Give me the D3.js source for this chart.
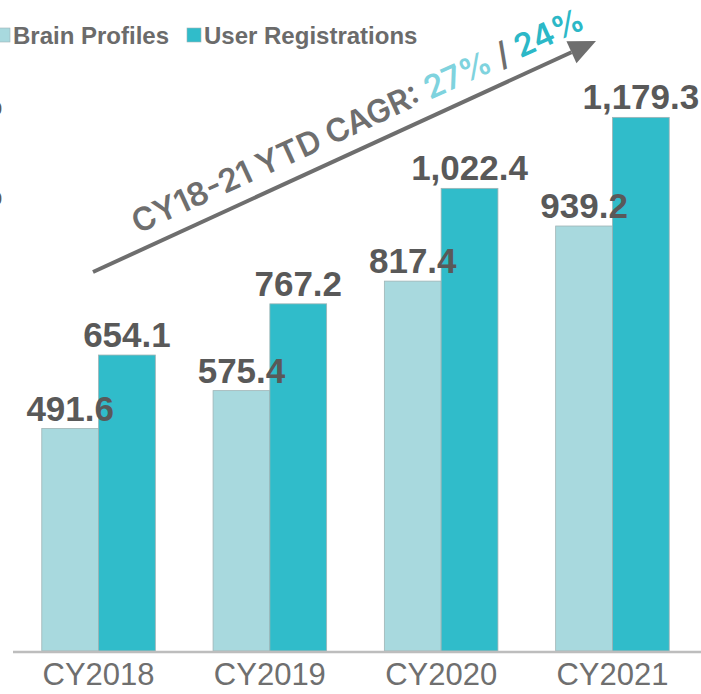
<!DOCTYPE html>
<html>
<head>
<meta charset="utf-8">
<script src="https://cdn.jsdelivr.net/npm/d3@7"></script>
<style>
  body { margin: 0; background: #fff; }
  svg { display: block; }
</style>
</head>
<body>
<script>
// ----------------------------------------
//  Data
// ----------------------------------------
var years = ["CY2018", "CY2019", "CY2020", "CY2021"];
var seriesNames = ["Brain Profiles", "User Registrations"];
var brainProfiles = [491.6, 575.4, 817.4, 939.2];
var userRegistrations = [654.1, 767.2, 1022.4, 1179.3];
var yTicks = [1000, 1200];
var cagrParts = [
  { text: "CY18-21 YTD CAGR: ", color: "#6e6e6e" },
  { text: "27%", color: "#7fd3de" },
  { text: " / ", color: "#6e6e6e" },
  { text: "24%", color: "#2cb8c7" }
];

var colors = ["#a8d9de", "#30bcca"];

var width = 701, height = 694;

var svg = d3.select("body").append("svg")
    .attr("width", width)
    .attr("height", height);

// ----------------------------------------
// Scales
// ----------------------------------------
var x0 = d3.scaleBand()
    .domain(years)
    .range([13, 698])
    .paddingInner(0.337)
    .paddingOuter(0.168);

var x1 = d3.scaleBand()
    .domain(seriesNames)
    .range([0, x0.bandwidth()])
    .padding(0);

var y = d3.scaleLinear()
    .domain([0, 1200])
    .range([651, 108]);

var rows = years.map(function(yr, i) {
  return { year: yr, values: [
    { name: seriesNames[0], value: brainProfiles[i], color: colors[0] },
    { name: seriesNames[1], value: userRegistrations[i], color: colors[1] }
  ]};
});

// y axis (the reference only shows its labels clipped at the left edge)
var yAxis = svg.append("g")
    .attr("transform", "translate(2,0)")
    .call(d3.axisLeft(y).tickValues(yTicks).tickSize(0).tickPadding(0).tickFormat(d3.format(",")));
yAxis.select(".domain").remove();
yAxis.selectAll("text")
    .attr("font-family", "Liberation Sans, Arial, sans-serif")
    .attr("font-size", 19)
    .attr("fill", "#595959");

// ----------------------------------------
// Bars
// ----------------------------------------
var groups = svg.selectAll(".grp")
    .data(rows)
    .enter().append("g")
    .attr("class", "grp")
    .attr("transform", function(d) { return "translate(" + x0(d.year) + ",0)"; });

groups.selectAll("rect")
    .data(function(d) { return d.values; })
    .enter().append("rect")
    .attr("x", function(d) { return x1(d.name); })
    .attr("y", function(d) { return y(d.value); })
    .attr("width", x1.bandwidth())
    .attr("height", function(d) { return y(0) - y(d.value); })
    .attr("fill", function(d) { return d.color; })
    .attr("stroke", "#9fb3b5")
    .attr("stroke-width", 0.8);

groups.selectAll(".lbl")
    .data(function(d) { return d.values; })
    .enter().append("text")
    .attr("class", "lbl")
    .attr("x", function(d) { return x1(d.name) + x1.bandwidth() / 2; })
    .attr("y", function(d) { return y(d.value) - 8; })
    .attr("text-anchor", "middle")
    .attr("font-family", "Liberation Sans, Arial, sans-serif")
    .attr("font-weight", "bold")
    .attr("font-size", 35)
    .attr("fill", "#595959")
    .text(function(d) { return d3.format(",.1f")(d.value); });

// x axis
svg.append("line")
    .attr("x1", 13).attr("x2", width)
    .attr("y1", y(0) + 1).attr("y2", y(0) + 1)
    .attr("stroke", "#bdbdbd")
    .attr("stroke-width", 2.5);

var xAxis = svg.append("g")
    .attr("transform", "translate(0," + (y(0) + 2) + ")")
    .call(d3.axisBottom(x0).tickSize(0).tickPadding(10));
xAxis.select(".domain").remove();
xAxis.selectAll("text")
    .attr("font-family", "Liberation Sans, Arial, sans-serif")
    .attr("font-size", 31)
    .attr("fill", "#6f6f6f");

// ----------------------------------------
// Legend
// ----------------------------------------
var legendX = [-4, 187];
var legend = svg.selectAll(".leg")
    .data(seriesNames)
    .enter().append("g")
    .attr("class", "leg")
    .attr("transform", function(d, i) { return "translate(" + legendX[i] + ",28)"; });
legend.append("rect")
    .attr("width", 14).attr("height", 14)
    .attr("fill", function(d, i) { return colors[i]; })
    .attr("stroke", "#9fb3b5").attr("stroke-width", 0.6);
legend.append("text")
    .attr("x", 17).attr("y", 16)
    .attr("font-family", "Liberation Sans, Arial, sans-serif")
    .attr("font-weight", "bold")
    .attr("font-size", 24)
    .attr("fill", "#6b6b6b")
    .text(function(d) { return d; });

// ----------------------------------------
// CAGR arrow + text
// ----------------------------------------
var ax0 = 93, ay0 = 272, ax1 = 596, ay1 = 41;
var ang = Math.atan2(ay1 - ay0, ax1 - ax0);
var headLen = 27, headW = 12;
var bx = ax1 - headLen * Math.cos(ang), by = ay1 - headLen * Math.sin(ang);
svg.append("line")
    .attr("x1", ax0).attr("y1", ay0)
    .attr("x2", bx).attr("y2", by)
    .attr("stroke", "#6e6e6e")
    .attr("stroke-width", 4);
svg.append("polygon")
    .attr("points", [
      [ax1, ay1],
      [bx + headW * Math.sin(ang), by - headW * Math.cos(ang)],
      [bx - headW * Math.sin(ang), by + headW * Math.cos(ang)]
    ].map(function(p) { return p.join(","); }).join(" "))
    .attr("fill", "#6e6e6e");

var deg = ang * 180 / Math.PI;
var cagr = svg.append("text")
    .attr("transform", "translate(138,234) rotate(" + deg + ")")
    .attr("font-family", "Inter, Lato, sans-serif")
    .attr("font-weight", 600)
    .attr("font-size", 32)
    .attr("textLength", 494)
    .attr("lengthAdjust", "spacingAndGlyphs");
cagr.selectAll("tspan")
    .data(cagrParts)
    .enter().append("tspan")
    .attr("fill", function(d) { return d.color; })
    .style("white-space", "pre")
    .text(function(d) { return d.text; });
</script>
</body>
</html>
